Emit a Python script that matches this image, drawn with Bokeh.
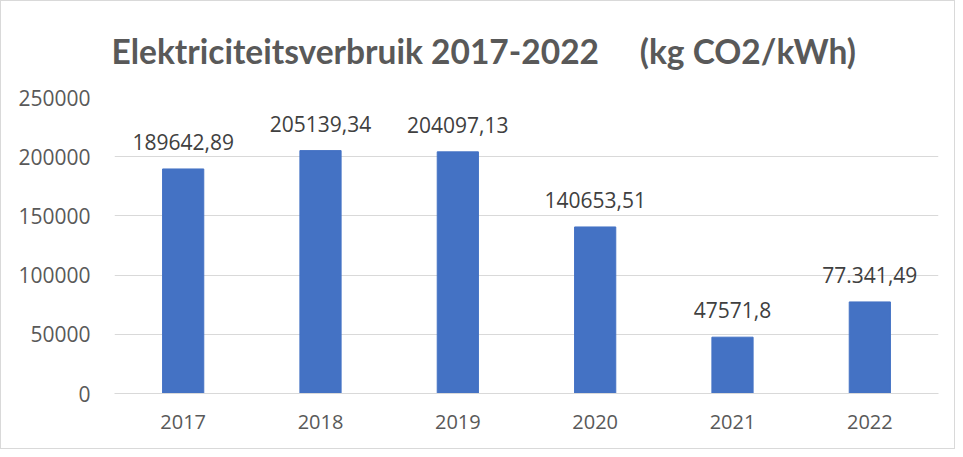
from bokeh.plotting import figure
from bokeh.models import ColumnDataSource, LabelSet, NumeralTickFormatter, FixedTicker
from bokeh.core.properties import value
from bokeh.embed import file_html
from bokeh.resources import INLINE

years = ["2017", "2018", "2019", "2020", "2021", "2022"]
values = [189642.89, 205139.34, 204097.13, 140653.51, 47571.8, 77341.49]
value_labels = ["189642,89", "205139,34", "204097,13", "140653,51", "47571,8", "77.341,49"]
y_ticks = [0, 50000, 100000, 150000, 200000, 250000]
title_text = "Elektriciteitsverbruik 2017-2022\u00a0\u00a0\u00a0\u00a0 (kg CO2/kWh)"

src = ColumnDataSource(dict(x=years, top=values, lab=value_labels))

p = figure(x_range=years, y_range=(0, 250000), width=955, height=449,
           output_backend="svg", toolbar_location=None,
           min_border_left=113, min_border_right=18, min_border_top=96, min_border_bottom=57)
p.styles = {"border": "1px solid #d9d9d9", "box-sizing": "border-box"}
p.outline_line_color = None
p.background_fill_color = "white"
p.border_fill_color = "white"

p.title.text = title_text
p.title.align = "left"
p.title.offset = -3
p.title.standoff = 53
p.title.text_font = "Lato"
p.title.text_font_style = "bold"
p.title.text_font_size = "33.5px"
p.title.text_color = "#595959"

p.vbar(x="x", top="top", width=0.30, source=src, fill_color="#4472C4", line_color="#4472C4")

p.xgrid.grid_line_color = None
p.ygrid.grid_line_color = "#d9d9d9"
p.ygrid.ticker = FixedTicker(ticks=y_ticks)
p.yaxis.ticker = FixedTicker(ticks=y_ticks)
p.yaxis.formatter = NumeralTickFormatter(format="0")
p.yaxis.axis_line_color = None
p.yaxis.major_tick_line_color = None
p.yaxis.minor_tick_line_color = None
p.yaxis.major_tick_out = 0
p.yaxis.major_label_standoff = 24
p.yaxis.major_label_text_font = "Open Sans"
p.yaxis.major_label_text_font_size = "21px"
p.yaxis.major_label_text_color = "#595959"

p.xaxis.axis_line_color = "#d9d9d9"
p.xaxis.major_tick_line_color = None
p.xaxis.minor_tick_line_color = None
p.xaxis.major_tick_out = 0
p.xaxis.major_label_standoff = 21
p.xaxis.major_label_text_font = "Open Sans"
p.xaxis.major_label_text_font_size = "20px"
p.xaxis.major_label_text_color = "#595959"

labels = LabelSet(x="x", y="top", text="lab", source=src, y_offset=19,
                  text_align="center", text_baseline="bottom",
                  text_font=value("Open Sans"), text_font_size=value("21px"),
                  text_color="#404040")
p.add_layout(labels)

open("out.html", "w").write(file_html(p, INLINE))
